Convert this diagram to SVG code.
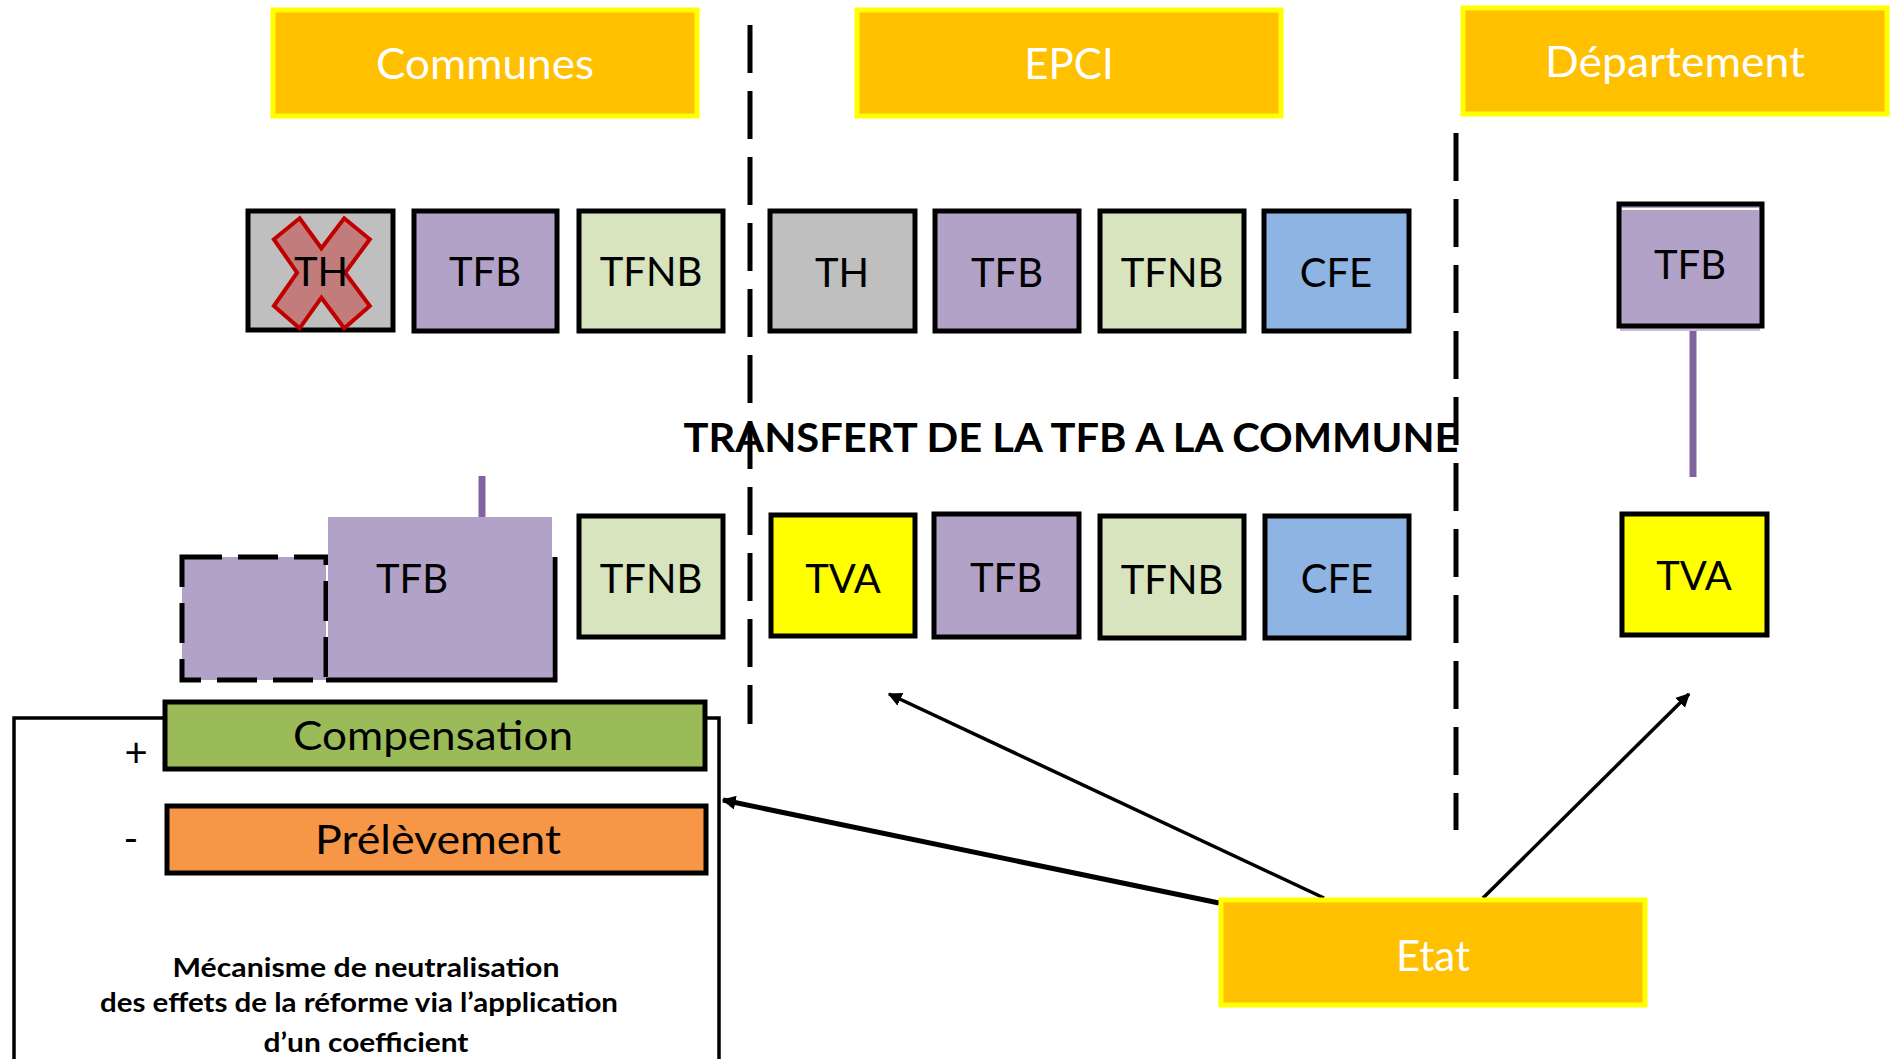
<svg xmlns="http://www.w3.org/2000/svg" width="1892" height="1059" viewBox="0 0 1892 1059">
<defs>
<style>
.hdr{fill:#FFC000;stroke:#FFFF00;stroke-width:5}
.hdrt{font-family:Lato,"Liberation Sans",sans-serif;font-size:42px;fill:#FFFFFF;text-anchor:middle;dominant-baseline:central}
.box{stroke:#000;stroke-width:5}
.lbl{font-family:Lato,"Liberation Sans",sans-serif;font-size:40px;fill:#000;text-anchor:middle;dominant-baseline:central}
.gray{fill:#BFBFBF}.pur{fill:#B3A2C7}.lgr{fill:#D7E4BD}.blu{fill:#8EB4E3}.yel{fill:#FFFF00}
.sep{stroke:#000;stroke-width:5;stroke-dasharray:48 18;fill:none}
.arr{stroke:#000;fill:none}
.bold{font-family:Lato,"Liberation Sans",sans-serif;font-weight:bold;fill:#000;text-anchor:middle}
</style>
<marker id="ah" viewBox="0 0 10 10" refX="9" refY="5" markerWidth="14" markerHeight="14" markerUnits="userSpaceOnUse" orient="auto"><path d="M0,0 L10,5 L0,10 z" fill="#000"/></marker>
</defs>
<rect width="1892" height="1059" fill="#FFFFFF"/>

<g id="separators">
<line class="sep" x1="750" y1="25" x2="750" y2="724"/>
<line class="sep" x1="1456" y1="133" x2="1456" y2="830"/>
</g>

<g id="hdr-communes"><rect class="hdr" x="273" y="10" width="424" height="106"/><text class="hdrt" x="485" y="63" textLength="218" lengthAdjust="spacingAndGlyphs">Communes</text></g>
<g id="hdr-epci"><rect class="hdr" x="857" y="10" width="424" height="106"/><text class="hdrt" x="1069" y="63">EPCI</text></g>
<g id="hdr-dep"><rect class="hdr" x="1463" y="8" width="424" height="106"/><text class="hdrt" x="1675" y="61" textLength="260" lengthAdjust="spacingAndGlyphs">Département</text></g>

<g id="c-th"><rect class="box gray" x="248" y="211" width="145" height="119"/>
<polygon points="299.6,218.3 321.4,248.3 344.2,218.3 369.8,239.3 345.1,272.7 369.8,306 344.2,328.3 321.4,297.7 299.6,328.3 273.9,306 297.1,272.7 273.9,239.3" fill="#C27C7C" stroke="#C00000" stroke-width="4" stroke-linejoin="miter"/>
<text class="lbl" x="321" y="271">TH</text></g>
<g id="c-tfb"><rect class="box pur" x="414" y="211" width="143" height="120"/><text class="lbl" x="485" y="271">TFB</text></g>
<g id="c-tfnb"><rect class="box lgr" x="579" y="211" width="144" height="120"/><text class="lbl" x="651" y="271">TFNB</text></g>

<g id="e-th"><rect class="box gray" x="770" y="211" width="145" height="120"/><text class="lbl" x="842" y="272">TH</text></g>
<g id="e-tfb"><rect class="box pur" x="935" y="211" width="144" height="120"/><text class="lbl" x="1007" y="272">TFB</text></g>
<g id="e-tfnb"><rect class="box lgr" x="1100" y="211" width="144" height="120"/><text class="lbl" x="1172" y="272">TFNB</text></g>
<g id="e-cfe"><rect class="box blu" x="1264" y="211" width="145" height="120"/><text class="lbl" x="1336" y="272">CFE</text></g>

<g id="d-tfb"><rect x="1620" y="326" width="140" height="5" fill="#C9BCDB"/><rect class="box pur" x="1619" y="204" width="143" height="122"/><line x1="1622" y1="209" x2="1759" y2="209" stroke="#FFFFFF" stroke-width="2"/><text class="lbl" x="1690" y="264">TFB</text></g>

<text id="transfert" class="bold" x="1071" y="452" font-size="40" textLength="775" lengthAdjust="spacingAndGlyphs">TRANSFERT DE LA TFB A LA COMMUNE</text>

<g id="c-tfb2">
<rect x="182" y="557" width="144" height="123" fill="#B3A2C7" stroke="#000" stroke-width="5" stroke-dasharray="40 16"/>
<rect x="328" y="517" width="224" height="161" fill="#B3A2C7"/>
<polyline points="326,680 555,680 555,557" fill="none" stroke="#000" stroke-width="5"/>
<line x1="482" y1="476" x2="482" y2="517" stroke="#8064A2" stroke-width="7"/>
<text class="lbl" x="412" y="578">TFB</text></g>
<g id="c-tfnb2"><rect class="box lgr" x="579" y="516" width="144" height="121"/><text class="lbl" x="651" y="578">TFNB</text></g>

<g id="e-tva"><rect class="box yel" x="771" y="515" width="144" height="121"/><text class="lbl" x="843" y="578">TVA</text></g>
<g id="e-tfb2"><rect class="box pur" x="934" y="514" width="145" height="123"/><text class="lbl" x="1006" y="577">TFB</text></g>
<g id="e-tfnb2"><rect class="box lgr" x="1100" y="516" width="144" height="122"/><text class="lbl" x="1172" y="579">TFNB</text></g>
<g id="e-cfe2"><rect class="box blu" x="1265" y="516" width="144" height="122"/><text class="lbl" x="1337" y="578">CFE</text></g>

<g id="d-tva"><rect class="box yel" x="1622" y="514" width="145" height="121"/><text class="lbl" x="1694" y="575">TVA</text></g>

<g id="mecanisme">
<rect x="14" y="718" width="705" height="360" fill="#FFFFFF" stroke="#000" stroke-width="3.5"/>
<text class="bold" x="366" y="977" font-size="27" textLength="387" lengthAdjust="spacingAndGlyphs">Mécanisme de neutralisation</text>
<text class="bold" x="359" y="1012" font-size="27" textLength="518" lengthAdjust="spacingAndGlyphs">des effets de la réforme via l’application</text>
<text class="bold" x="366" y="1052" font-size="27" textLength="205" lengthAdjust="spacingAndGlyphs">d’un coefficient</text>
<text class="lbl" x="136" y="752" font-size="36">+</text>
<text class="lbl" x="131" y="838" font-size="36">-</text>
</g>
<g id="compensation"><rect class="box" fill="#9BBB59" x="165" y="702" width="540" height="67"/><text class="lbl" x="433" y="735" textLength="280" lengthAdjust="spacingAndGlyphs">Compensation</text></g>
<g id="prelevement"><rect class="box" fill="#F79646" x="167" y="806" width="539" height="67"/><text class="lbl" x="438" y="839" textLength="246" lengthAdjust="spacingAndGlyphs">Prélèvement</text></g>

<g id="connectors">
<line x1="1693" y1="331" x2="1693" y2="477" stroke="#8064A2" stroke-width="7"/>
<line class="arr" x1="1219" y1="903" x2="723" y2="800" stroke-width="5" marker-end="url(#ah)"/>
<line class="arr" x1="1324" y1="898" x2="889" y2="694" stroke-width="3.5" marker-end="url(#ah)"/>
<line class="arr" x1="1483" y1="898" x2="1689" y2="694" stroke-width="3.5" marker-end="url(#ah)"/>
</g>

<g id="etat"><rect class="hdr" x="1221" y="900" width="424" height="105"/><text class="hdrt" x="1433" y="955">Etat</text></g>
</svg>
